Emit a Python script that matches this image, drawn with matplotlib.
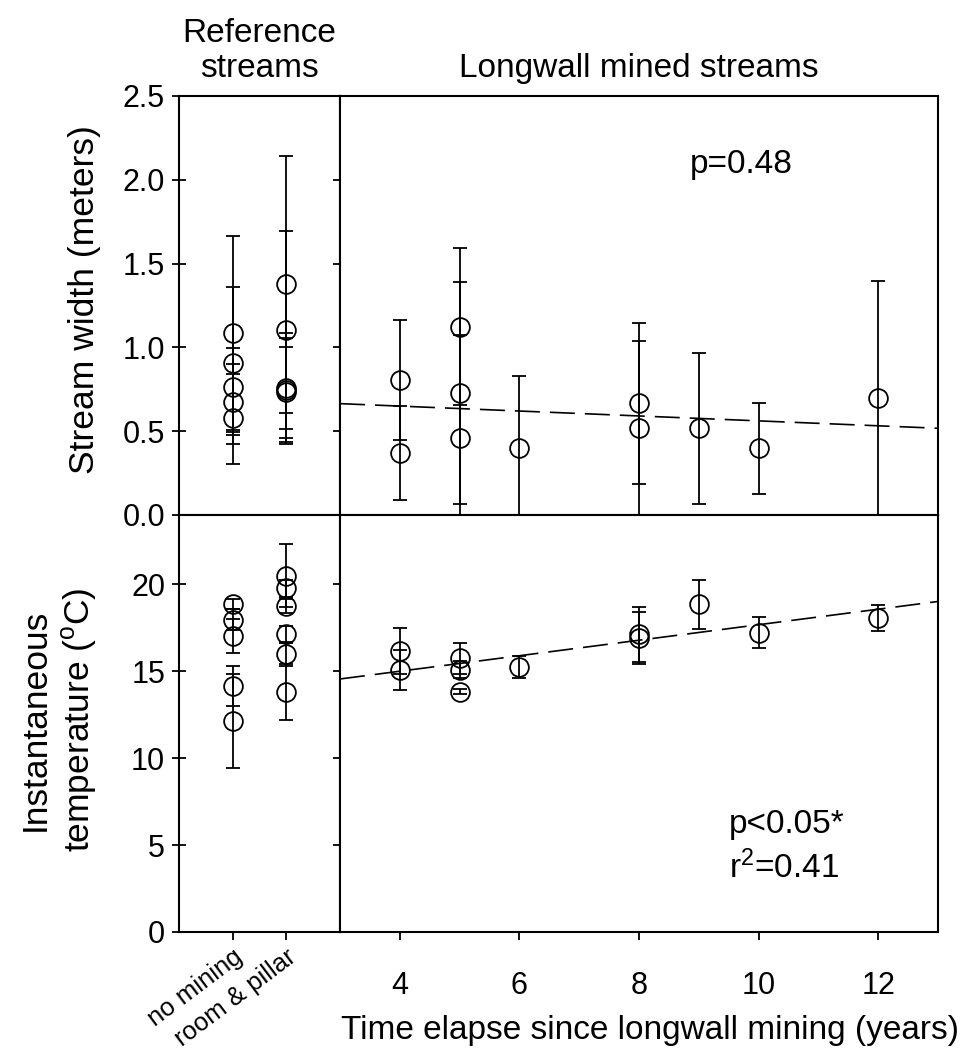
import numpy as np
import matplotlib
matplotlib.use("Agg")
import matplotlib.pyplot as plt

plt.rcParams['font.family'] = ['Liberation Sans', 'DejaVu Sans']
plt.rcParams['mathtext.fontset'] = 'custom'
plt.rcParams['mathtext.rm'] = 'Liberation Sans'
plt.rcParams['mathtext.it'] = 'Liberation Sans:italic'

# reference streams (categories on the left panels)
ref_cats = ["no mining", "room & pillar"]

ref_width_nomining = [1.084, 0.905, 0.766, 0.676, 0.581]
ref_width_nomining_lo = [0.577, 0.483, 0.273, 0.199, 0.279]
ref_width_nomining_hi = [0.581, 0.457, 0.229, 0.224, 0.260]
ref_width_rp = [1.376, 1.104, 0.756, 0.746, 0.732]
ref_width_rp_err = [0.766, 0.593, 0.332, 0.31, 0.27]

ref_temp_nomining = [18.86, 17.96, 17.04, 14.16, 12.14]
ref_temp_nomining_err = [0.3, 0.6, 0.96, 1.15, 2.7]
ref_temp_rp = [20.5, 19.78, 18.76, 17.13, 16.0, 13.8]
ref_temp_rp_err = [1.81, 0.5, 0.4, 0.48, 0.7, 1.6]

# longwall mined streams
lw_years = [4, 4, 5, 5, 5, 6, 8, 8, 9, 10, 12]
lw_width = [0.805, 0.37, 1.124, 0.726, 0.458, 0.398, 0.666, 0.517, 0.517, 0.398, 0.696]
lw_width_err = [0.36, 0.28, 0.467, 0.662, 0.616, 0.43, 0.48, 0.52, 0.45, 0.27, 0.70]
lw_temp = [16.17, 15.08, 15.75, 15.1, 13.83, 15.25, 17.13, 16.9, 18.86, 17.23, 18.05]
lw_temp_err = [1.31, 1.17, 0.9, 0.5, 0.15, 0.65, 1.6, 1.5, 1.42, 0.9, 0.75]

width_ticks = [0.0, 0.5, 1.0, 1.5, 2.0, 2.5]
temp_ticks = [0, 5, 10, 15, 20]
year_ticks = [4, 6, 8, 10, 12]

fig = plt.figure(figsize=(9.66, 10.57), dpi=100)
ax_rw = fig.add_axes([0.1853, 0.5128, 0.1667, 0.3964])
ax_lw = fig.add_axes([0.3520, 0.5128, 0.6190, 0.3964])
ax_rt = fig.add_axes([0.1853, 0.1183, 0.1667, 0.3945])
ax_lt = fig.add_axes([0.3520, 0.1183, 0.6190, 0.3945])

eb = dict(fmt='o', mfc='none', mec='k', ecolor='k', ms=13.5, mew=1.3,
          elinewidth=1.3, capsize=5, capthick=1.3)

# stream width
ax_rw.errorbar(np.full(len(ref_width_nomining), 1), ref_width_nomining,
               yerr=[ref_width_nomining_lo, ref_width_nomining_hi], **eb)
ax_rw.errorbar(np.full(len(ref_width_rp), 2), ref_width_rp, yerr=ref_width_rp_err, **eb)
ax_lw.errorbar(lw_years, lw_width, yerr=lw_width_err, **eb)

# temperature
ax_rt.errorbar(np.full(len(ref_temp_nomining), 1), ref_temp_nomining,
               yerr=ref_temp_nomining_err, **eb)
ax_rt.errorbar(np.full(len(ref_temp_rp), 2), ref_temp_rp, yerr=ref_temp_rp_err, **eb)
ax_lt.errorbar(lw_years, lw_temp, yerr=lw_temp_err, **eb)

# regression lines over the longwall streams
xs = np.array([3.0, 13.0])
for ax, vals in ((ax_lw, lw_width), (ax_lt, lw_temp)):
    fit = np.polyfit(lw_years, vals, 1)
    ax.plot(xs, np.polyval(fit, xs), color='k', lw=1.2, dashes=(15, 6))

for ax in (ax_rw, ax_lw, ax_rt, ax_lt):
    for s in ax.spines.values():
        s.set_linewidth(1.5)

for ax in (ax_rw, ax_rt):
    ax.set_xlim(0, 3)
    ax.tick_params(axis='y', direction='inout', length=10, width=1.3,
                   left=True, right=True, labelsize=22, pad=5)
for ax in (ax_lw, ax_lt):
    ax.set_xlim(3, 13)
    ax.tick_params(axis='y', left=False, labelleft=False)

ax_rw.set_ylim(0, 2.5)
ax_lw.set_ylim(0, 2.5)
ax_rw.set_yticks(width_ticks)
ax_rw.set_yticklabels([f"{t:.1f}" for t in width_ticks])
ax_lw.set_yticks(width_ticks)
for ax in (ax_rw, ax_lw):
    ax.tick_params(axis='x', bottom=False, labelbottom=False)

ax_rt.set_ylim(0, 24)
ax_lt.set_ylim(0, 24)
ax_rt.set_yticks(temp_ticks)
ax_lt.set_yticks(temp_ticks)

ax_rt.set_xticks([1, 2])
ax_rt.set_xticklabels(ref_cats, rotation=37, ha='right', rotation_mode='anchor', fontsize=18.5)
ax_rt.tick_params(axis='x', direction='out', length=6, width=1.3, pad=3)

ax_lt.set_xticks(year_ticks)
ax_lt.tick_params(axis='x', direction='out', length=6, width=1.3, labelsize=22, pad=22)

# annotations
ax_lw.text(8.85, 2.09, "p=0.48", fontsize=24, va='center', ha='left')
ax_lt.text(9.5, 6.2, "p<0.05*", fontsize=24, va='center', ha='left')
ax_lt.text(9.5, 3.7, r"r$^{2}$=0.41", fontsize=24, va='center', ha='left')

fig.text(259.5 / 966, 1 - 84 / 1057, "Reference\nstreams", fontsize=24,
         ha='center', va='bottom', linespacing=1.15)
fig.text(639 / 966, 1 - 77 / 1057, "Longwall mined streams", fontsize=24,
         ha='center', va='baseline')

fig.text(85 / 966, 1 - 300 / 1057, "Stream width (meters)", fontsize=25.5,
         rotation=90, ha='center', va='center')
fig.text(59 / 966, 1 - 720 / 1057, "Instantaneous\n" + r"temperature ($^{\mathrm{o}}$C)",
         fontsize=25.5, rotation=90, ha='center', va='center', linespacing=1.3)
fig.text(650 / 966, 1 - 1030 / 1057, "Time elapse since longwall mining (years)",
         fontsize=24, ha='center', va='center')

fig.savefig("out.png", dpi=100)
